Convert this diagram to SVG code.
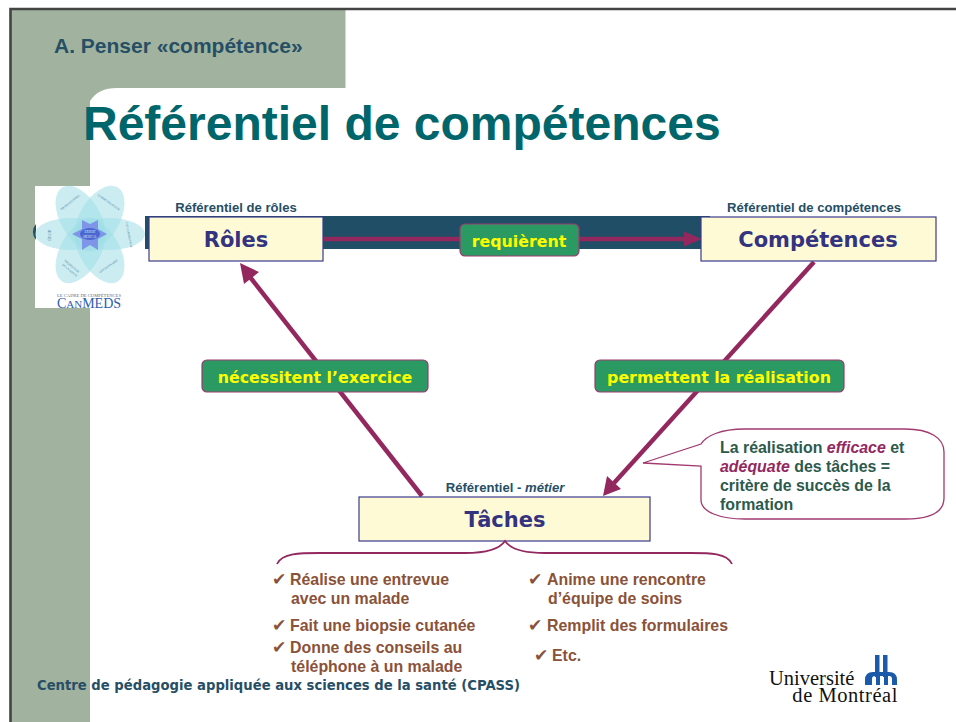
<svg xmlns="http://www.w3.org/2000/svg" width="956" height="722" viewBox="0 0 956 722">
<style>
text{font-family:"Liberation Sans",Arial,sans-serif}
.box{fill:#fffad6;stroke:#3a3a8c;stroke-width:1.2}
.big{font-family:"DejaVu Sans",Verdana,sans-serif;font-weight:bold;font-size:21px;fill:#33337f;text-anchor:middle}
.ref{font-weight:bold;font-size:13.100px;fill:#264f66;text-anchor:middle}
.pill{fill:#2a9a62;stroke:#9a3a72;stroke-width:1.2}
.lab{font-family:"DejaVu Sans",Verdana,sans-serif;font-weight:bold;font-size:15.800px;fill:#ffff00;text-anchor:middle}
.ln{stroke:#93285f;stroke-width:4.500;fill:none}
.ah{fill:#93285f}
.it{font-weight:bold;font-size:15.900px;fill:#8a5238}
.ck{font-family:"DejaVu Sans",sans-serif;font-size:17px;fill:#8a5238}
.co{font-weight:bold;font-size:15.900px;fill:#2c5a4c}
.em{font-style:italic;fill:#93285f}
.pt{fill:#a0dfe8;fill-opacity:.55}
.tiny{font-size:3px;fill:#4f7c9a;text-anchor:middle;font-family:"Liberation Serif",serif}
</style>
<rect width="956" height="722" fill="#fff"/>
<g id="background">
<path d="M10 9H345.500V88H117Q98 88 90 101V722H10Z" fill="#a1b39f"/>
<path d="M10.500 722V9H956" fill="none" stroke="#444" stroke-width="2.600"/>
</g>
<text id="section" x="54" y="53" font-size="21" font-weight="bold" fill="#264f66">A. Penser «compétence»</text>
<text id="title" x="83" y="140" font-size="48" font-weight="bold" fill="#00666b">Référentiel de compétences</text>
<g id="logo">
<rect x="35" y="186" width="55" height="122" fill="#fff"/>
<path d="M36 224A12 12 0 0 0 36 240Z" fill="#1f4e66"/>
<g>
<ellipse class="pt" cx="71" cy="234" rx="36" ry="16"/>
<ellipse class="pt" cx="109" cy="234" rx="36" ry="16"/>
<ellipse class="pt" cx="80.500" cy="218.500" rx="36" ry="20" transform="rotate(60 80.500 218.500)"/>
<ellipse class="pt" cx="99.500" cy="218.500" rx="36" ry="20" transform="rotate(-60 99.500 218.500)"/>
<ellipse class="pt" cx="80.500" cy="250.500" rx="36" ry="20" transform="rotate(-60 80.500 250.500)"/>
<ellipse class="pt" cx="99.500" cy="250.500" rx="36" ry="20" transform="rotate(60 99.500 250.500)"/>
</g>
<polygon points="107,234 98,239 98,250 90,245 82,250 82,239 72,234 82,229 82,220 90,224 98,220 98,229" fill="#7f96e8"/>
<ellipse cx="90" cy="234" rx="10" ry="6" fill="#4a66d0"/>
<text class="tiny" x="90" y="233" style="fill:#dbe6f5">EXPERT</text>
<text class="tiny" x="90" y="238" style="fill:#dbe6f5">MÉDICAL</text>
<text class="tiny" transform="translate(71 203) rotate(-38)">PROFESSIONNEL</text>
<text class="tiny" transform="translate(108 203) rotate(35)">COMMUNICATEUR</text>
<text class="tiny" transform="translate(128 235) rotate(80)">COLLABORATEUR</text>
<text class="tiny" transform="translate(109 267) rotate(-35)">GESTIONNAIRE</text>
<text class="tiny" transform="translate(71 267) rotate(40)">PROMOTEUR</text>
<text class="tiny" transform="translate(69 271) rotate(40)">DE LA SANTÉ</text>
<text class="tiny" transform="translate(51 235) rotate(-90)">ÉRUDIT</text>
<text x="89" y="297" font-size="4.600" text-anchor="middle" fill="#5a6a80" style="font-family:'Liberation Serif',serif">LE CADRE DE COMPÉTENCES</text>
<text x="89" y="307.500" font-size="14" text-anchor="middle" fill="#2f5cb0" style="font-family:'Liberation Serif',serif">C<tspan font-size="11">AN</tspan>MEDS</text>
</g>
<rect id="band" x="145" y="216" width="565" height="33" fill="#1f4e66"/>
<g id="connectors">
<path class="ln" d="M323 239H690"/>
<polygon class="ah" points="702,239 684,231.500 684,246.500"/>
<path class="ln" d="M422 496L250 277"/>
<polygon class="ah" points="240,263 259,272 244,284"/>
<path class="ln" d="M814 262L614 483"/>
<polygon class="ah" points="603,496 607,476 621,489"/>
</g>
<g id="roles"><rect class="box" x="149" y="217" width="174" height="44"/><text class="big" x="236" y="247">Rôles</text>
<text class="ref" x="236" y="212">Référentiel de rôles</text></g>
<g id="competences"><rect class="box" x="701" y="217" width="235" height="44"/><text class="big" x="818" y="247">Compétences</text>
<text class="ref" x="814" y="212">Référentiel de compétences</text></g>
<g id="taches"><rect class="box" x="359" y="497" width="291" height="44"/><text class="big" x="505" y="527">Tâches</text>
<text class="ref" x="505" y="492">Référentiel - <tspan font-style="italic">métier</tspan></text></g>
<g id="requierent"><rect class="pill" x="460" y="224" width="119" height="32" rx="5"/><text class="lab" x="519" y="247">requièrent</text></g>
<g id="necessitent"><rect class="pill" x="202" y="360" width="226" height="32" rx="5"/><text class="lab" x="315" y="383">nécessitent l’exercice</text></g>
<g id="permettent"><rect class="pill" x="595" y="360" width="249" height="32" rx="5"/><text class="lab" x="719" y="383">permettent la réalisation</text></g>
<g id="callout">
<path d="M643 463L701 444C706 436 720 429 745 429H905C930 429 944 438 944 452V498C944 512 930 519 905 519H745C720 519 701 512 701 500V466Z" fill="#fff" stroke="#a03a70" stroke-width="1.300"/>
<text class="co" x="720" y="453">La réalisation <tspan class="em">efficace</tspan> et</text>
<text class="co" x="720" y="472"><tspan class="em">adéquate</tspan> des tâches =</text>
<text class="co" x="720" y="491">critère de succès de la</text>
<text class="co" x="720" y="510">formation</text>
</g>
<path id="brace" d="M277 564C282 553 300 553 320 553H465C485 553 499 550 505 541C511 550 525 553 545 553H690C710 553 727 553 732 564" fill="none" stroke="#93285f" stroke-width="1.800"/>
<g id="list">
<text class="ck" x="272" y="585">✔</text><text class="it" x="290" y="585">Réalise une entrevue</text>
<text class="it" x="291" y="604">avec un malade</text>
<text class="ck" x="272" y="631">✔</text><text class="it" x="290" y="631">Fait une biopsie cutanée</text>
<text class="ck" x="272" y="653">✔</text><text class="it" x="290" y="653">Donne des conseils au</text>
<text class="it" x="291" y="672">téléphone à un malade</text>
<text class="ck" x="528" y="585">✔</text><text class="it" x="547" y="585">Anime une rencontre</text>
<text class="it" x="548" y="604">d’équipe de soins</text>
<text class="ck" x="528" y="631">✔</text><text class="it" x="547" y="631">Remplit des formulaires</text>
<text class="ck" x="534" y="661">✔</text><text class="it" x="552" y="661">Etc.</text>
</g>
<text id="footer" x="37" y="690" font-size="13.200" font-weight="bold" fill="#264f66" style="font-family:'DejaVu Sans',Verdana,sans-serif">Centre de pédagogie appliquée aux sciences de la santé (CPASS)</text>
<g id="udem">
<text x="769" y="685" font-size="20.500" fill="#111" style="font-family:'Liberation Serif',serif">Université</text>
<text x="898" y="702" font-size="20.500" letter-spacing=".55" fill="#111" text-anchor="end" style="font-family:'Liberation Serif',serif">de Montréal</text>
<path d="M875 655h4.500v22h-4.500zM883 655h4.500v22h-4.500zM865 685v-5q0-8 8-8h16q8 0 8 8v5h-5v-6q0-3-3-3h-1v9h-4v-9h-4v9h-4v-9h-1q-3 0-3 3v6z" fill="#1a5aa8"/>
</g>
</svg>
